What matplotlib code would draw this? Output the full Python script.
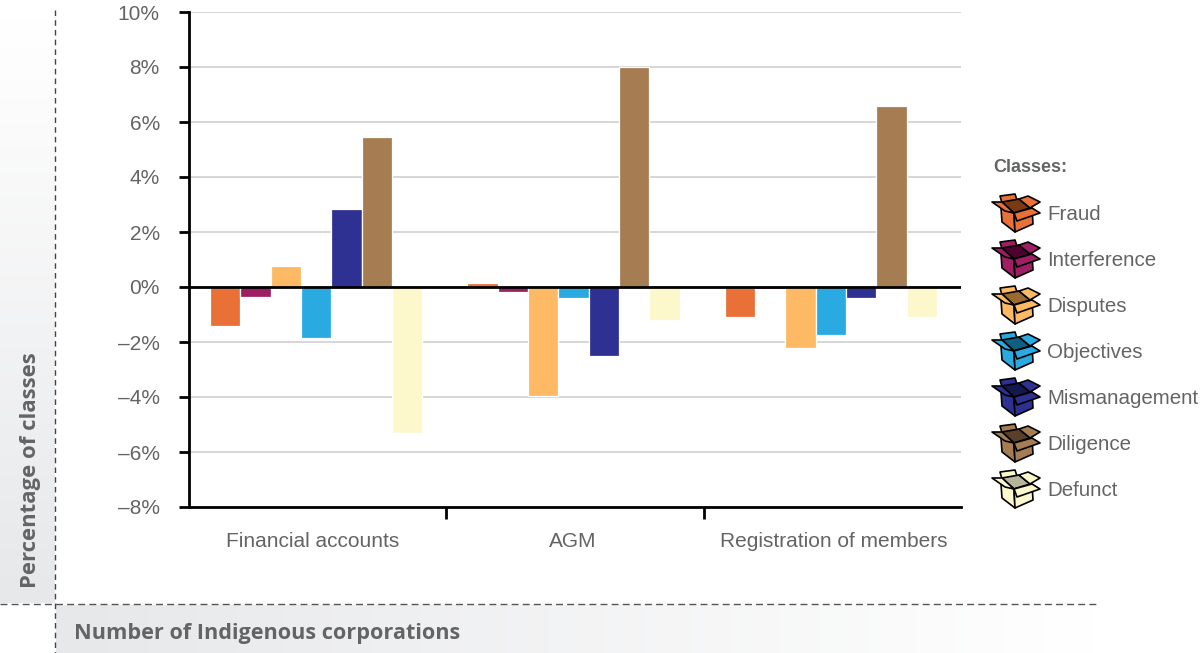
import numpy as np
import matplotlib
matplotlib.use("Agg")
import matplotlib.pyplot as plt
from matplotlib.patches import Polygon

# --- data ---
categories = ["Financial accounts", "AGM", "Registration of members"]
classes = ["Fraud", "Interference", "Disputes", "Objectives", "Mismanagement", "Diligence", "Defunct"]
fraud = [-1.4, 0.15, -1.1]
interference = [-0.35, -0.18, -0.06]
disputes = [0.75, -3.95, -2.2]
objectives = [-1.85, -0.4, -1.75]
mismanagement = [2.85, -2.5, -0.4]
diligence = [5.45, 8.0, 6.6]
defunct = [-5.3, -1.2, -1.1]
yticks = [-8, -6, -4, -2, 0, 2, 4, 6, 8, 10]
colors = ["#E97036", "#9E1F63", "#FDB963", "#29ABE2", "#2E3192", "#A67C52", "#FCF8CC"]
dark_colors = ["#7A3A12", "#50002F", "#9A6A30", "#0F5F80", "#15174F", "#5A4028", "#B5B59A"]
label_x = [-0.02, 0.99, 2.005]

W, H = 1201, 653
GREY = "#636466"
FONT = ["Liberation Sans", "DejaVu Sans"]
plt.rcParams["font.family"] = FONT

fig = plt.figure(figsize=(W / 100, H / 100), dpi=100)

# overlay in pixel coords for the bands, dashed rules and box icons
bg = fig.add_axes([0, 0, 1, 1], zorder=0)
band = matplotlib.colors.LinearSegmentedColormap.from_list("band", ["#FFFFFF", "#E7E8EA"])
bg.imshow(np.linspace(0, 1, 200).reshape(-1, 1), extent=(0, 55, 603, 20), cmap=band,
          aspect="auto", zorder=1)
bg.imshow(np.linspace(1, 0, 200).reshape(1, -1), extent=(56, 1097, 653, 605), cmap=band,
          aspect="auto", zorder=1)
bg.set_xlim(0, W)
bg.set_ylim(H, 0)
bg.axis("off")
bg.plot([55, 55], [10, 653], color="#444444", lw=1, ls=(0, (4, 3)), zorder=2)
bg.plot([0, 1097], [604, 604], color="#555555", lw=1, ls=(0, (5, 3)), zorder=2)

bg.text(31, 588, "Percentage of classes", rotation=90, ha="center", va="bottom",
        fontsize=15.9, fontweight="bold", color=GREY, fontfamily="Open Sans")
bg.text(74, 634, "Number of Indigenous corporations", ha="left", va="center",
        fontsize=15.6, fontweight="bold", color=GREY, fontfamily="Open Sans")


def draw_box(ax, x, y, face, dark):
    # x, y = top left of a 49x39 px box icon
    def p(pts, fc):
        ax.add_patch(Polygon([(x + a, y + b) for a, b in pts], closed=True, fc=fc, ec="black",
                             lw=1.2, joinstyle="round", zorder=3))
    p([(8, 2), (23, 0), (25, 6), (10, 9)], face)            # back flap
    p([(10, 8), (27, 5), (38, 14), (22, 19)], dark)         # inside
    p([(27, 5), (36, 2), (48, 8), (38, 14)], face)          # right flap
    p([(9, 14), (22, 19), (23, 38), (10, 28)], face)        # left side
    p([(22, 19), (40, 14), (41, 30), (23, 38)], face)       # right side
    p([(0, 8), (10, 8), (22, 19), (13, 17)], face)          # left flap
    p([(22, 19), (40, 14), (48, 19), (25, 27)], face)       # front flap


bg.text(993, 167, "Classes:", ha="left", va="center", fontsize=13, fontweight="bold", color=GREY)
for i, name in enumerate(classes):
    yc = 213 + i * 46
    draw_box(bg, 992, yc - 19, colors[i], dark_colors[i])
    bg.text(1047, yc + 2, name, ha="left", va="center", fontsize=14.8, color=GREY)

# --- chart ---
left, right, top, bottom = 189, 961, 12, 507
ax = fig.add_axes([left / W, 1 - bottom / H, (right - left) / W, (bottom - top) / H], zorder=1)
ax.patch.set_alpha(0)

series = [fraud, interference, disputes, objectives, mismanagement, diligence, defunct]
x = np.arange(len(categories)) - 0.006
slot = 0.118
for i, vals in enumerate(series):
    ax.bar(x + (i - 3) * slot, vals, width=slot, color=colors[i], edgecolor="#FFFFFF",
           linewidth=0.9, zorder=2)

ax.set_xlim(-0.5, 2.5)
ax.set_ylim(-8, 10)
ax.set_yticks(yticks)
ax.set_yticklabels([(f"\u2013{-t}%" if t < 0 else f"{t}%") for t in yticks], fontsize=15, color=GREY)
ax.yaxis.grid(True, color="#CCCCCC", lw=1.1, zorder=0)
ax.set_axisbelow(True)
ax.axhline(0, color="black", lw=2, zorder=3)

ax.set_xticks([0.5, 1.5])
ax.set_xticklabels([])
ax.tick_params(axis="x", length=8.5, width=2, color="black", pad=0, direction="out")
ax.tick_params(axis="y", length=7, width=2, color="black", pad=14)
for lx, c in zip(label_x, categories):
    ax.text(lx, -9.6, c, ha="center", va="bottom", fontsize=15, color=GREY)

for s in ["top", "right"]:
    ax.spines[s].set_visible(False)
for s in ["left", "bottom"]:
    ax.spines[s].set_linewidth(2)
ax.grid(False, axis="x")

fig.savefig("out.png", dpi=100)
